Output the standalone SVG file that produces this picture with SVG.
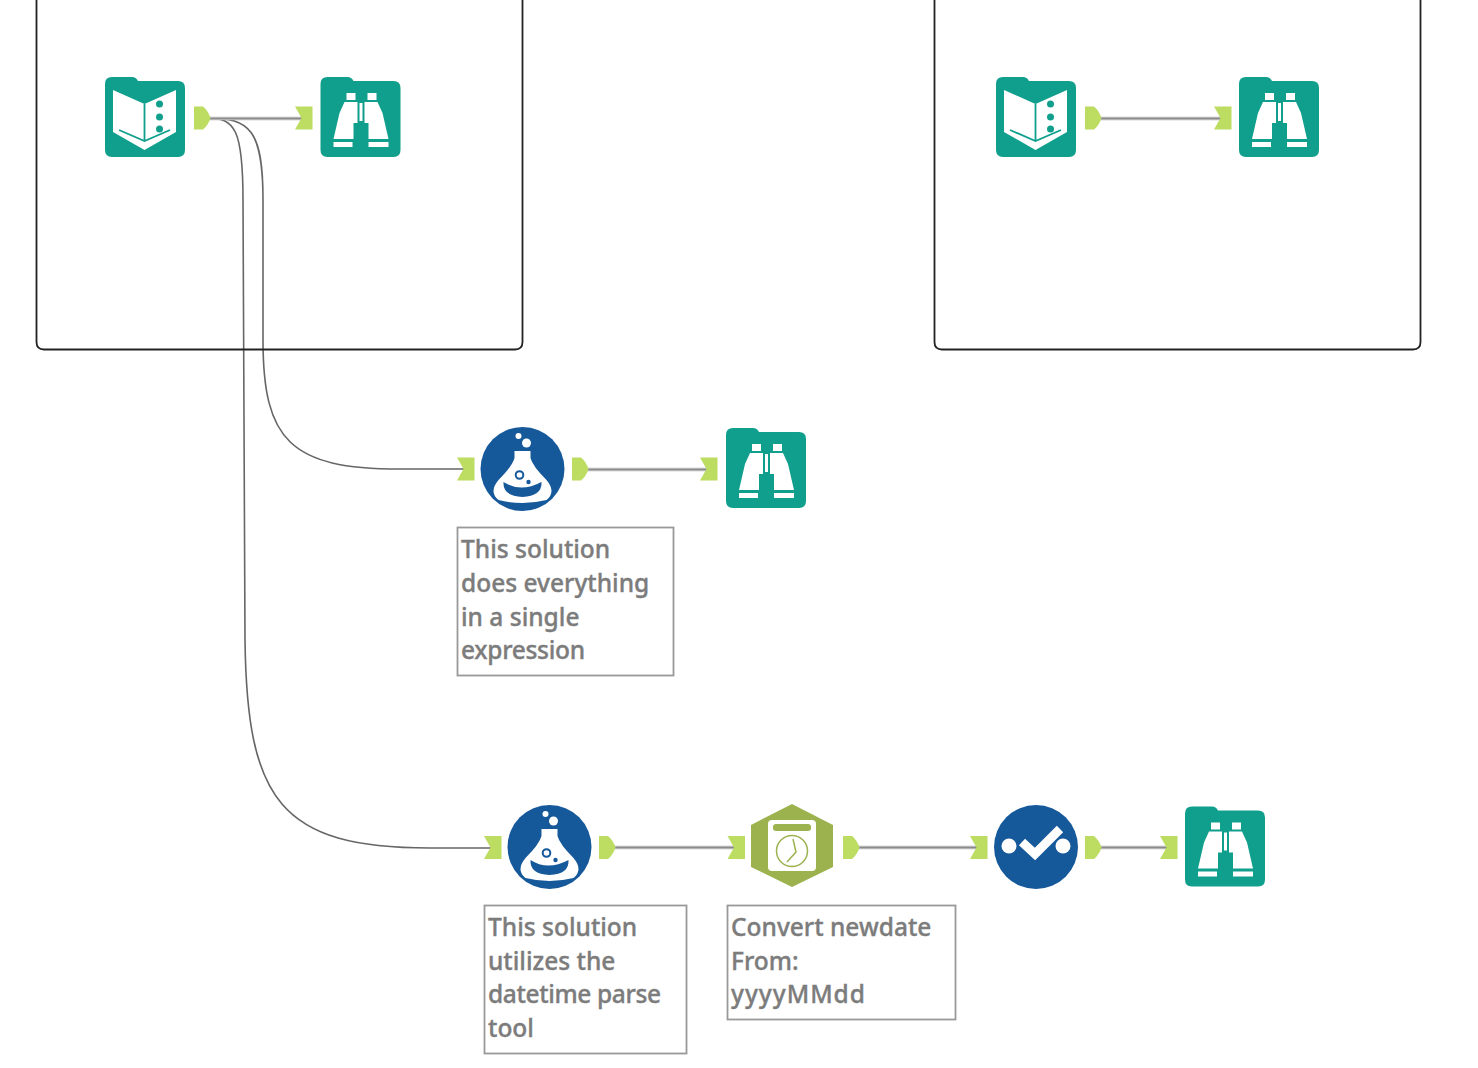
<svg xmlns="http://www.w3.org/2000/svg" width="1478" height="1068" viewBox="0 0 1478 1068">
<style>
.box{fill:none;stroke:#222;stroke-width:1.8}
.note{fill:#fff;stroke:#999;stroke-width:1.8}
.t{font-family:"Noto Sans","DejaVu Sans",sans-serif;font-size:24.5px;font-weight:500;fill:#7c7c7c;stroke:#7c7c7c;stroke-width:.35}
.wire{fill:none;stroke:#b4b4b4;stroke-width:3.6}
.core{fill:none;stroke:#8a8a8a;stroke-width:1.2}
.curve{fill:none;stroke:#666;stroke-width:1.6}
.a{fill:#bcdc62}
.teal{fill:#0f9f8c}
.blue{fill:#16599b}
.w{fill:#fff}
.tl{fill:none;stroke:#0f9f8c;stroke-width:1.8}
</style>
<defs>
<path id="ao" class="a" d="M0 0H9Q14 4 16.500 11.500Q14 19 9 23H0Z"/>
<path id="ai" class="a" d="M0 0H17.500V23H0L6.500 11.500Z"/>
<path id="folder" class="teal" d="M7 0H27Q31 0 33 4H73Q80 4 80 11V73Q80 80 73 80H7Q0 80 0 73V7Q0 0 7 0Z"/>
<g id="binoc">
<use href="#folder"/>
<path class="w" d="M26 16H35V23H26ZM47 16H56V23H47ZM13 65H32V70H13ZM48 65H68V70H48Z"/>
<path class="w" d="M24 25H37V46H33V62H13L19 36ZM44 25H57L62 36L68 62H48V46H44ZM39 26H42V44H39Z"/>
</g>
<g id="book">
<use href="#folder"/>
<path class="w" d="M8 13L39.500 27L71 13V55L39.500 73L8 55Z"/>
<path class="tl" d="M14 53L39.500 64L65 53M39.500 27V64"/>
<circle class="teal" cx="54.500" cy="27" r="3.500"/>
<circle class="teal" cx="54.500" cy="40" r="3.500"/>
<circle class="teal" cx="54.500" cy="52" r="3.500"/>
</g>
<g id="flask">
<circle class="blue" r="42"/>
<circle class="w" cx="-4" cy="-33" r="3"/>
<circle class="w" cx="4" cy="-26" r="4.500"/>
<path class="w" d="M-8 -18H8V-11Q10 -3 24 11Q34 23 24 31Q12 34 0 34Q-12 34 -24 31Q-34 23 -24 11Q-10 -3 -8 -11Z"/>
<circle cx="-3" cy="6" r="3.800" fill="none" stroke="#16599b" stroke-width="2"/>
<circle class="blue" cx="6" cy="13" r="2.200"/>
<path d="M-19 13Q-2 24 19 13Q20 27 0 28Q-20 27 -19 13Z" class="blue"/>
</g>
</defs>
<g id="connectors">
<path class="curve" d="M208 118C250 118 263 130 263 200L263 340C263 440 290 469 400 469L465 469"/>
<path class="curve" d="M208 118C235 118 243 130 243 200L245 640C247 800 280 848 430 848L492 848"/>
<path class="wire" d="M208 118.500H304M1099 118.500H1222M586 469.500H709M613 847.500H736M857 847.500H978M1099 847.500H1168"/>
<path class="core" d="M208 118.500H304M1099 118.500H1222M586 469.500H709M613 847.500H736M857 847.500H978M1099 847.500H1168"/>
</g>
<g id="container-left"><path class="box" d="M36.500 -5V342Q36.500 349.500 44 349.500H515Q522.500 349.500 522.500 342V-5"/></g>
<g id="container-right"><path class="box" d="M934.500 -5V342Q934.500 349.500 942 349.500H1413Q1420.500 349.500 1420.500 342V-5"/></g>
<g id="n1"><use href="#book" x="105" y="77"/><use href="#ao" x="194" y="106.500"/></g>
<g id="n2"><use href="#ai" x="295" y="106.500"/><use href="#binoc" x="320.500" y="77"/></g>
<g id="n3"><use href="#book" x="996" y="77"/><use href="#ao" x="1085" y="106.500"/></g>
<g id="n4"><use href="#ai" x="1214" y="106.500"/><use href="#binoc" x="1239" y="77"/></g>
<g id="n5"><use href="#ai" x="457" y="457.500"/><use href="#flask" x="522.500" y="469"/><use href="#ao" x="572" y="457.500"/></g>
<g id="n6"><use href="#ai" x="700" y="457.500"/><use href="#binoc" x="726" y="428"/></g>
<g id="n7"><rect class="note" x="457.500" y="527.500" width="216" height="148"/>
<text class="t"><tspan x="461" y="558">This solution</tspan><tspan x="461" y="592">does everything</tspan><tspan x="461" y="625.500">in a single</tspan><tspan x="461" y="659" textLength="124">expression</tspan></text></g>
<g id="n8"><use href="#ai" x="484" y="836"/><use href="#flask" x="549.500" y="847"/><use href="#ao" x="599" y="836"/></g>
<g id="n9"><rect class="note" x="484.500" y="905.500" width="202" height="148"/>
<text class="t"><tspan x="488" y="936">This solution</tspan><tspan x="488" y="969.500">utilizes the</tspan><tspan x="488" y="1003" textLength="173">datetime parse</tspan><tspan x="488" y="1037">tool</tspan></text></g>
<g id="n10"><use href="#ai" x="727.500" y="836"/>
<path fill="#9cb24e" d="M792 804L833 825V867L792 887L751 867V825Z"/>
<rect class="w" x="768" y="820" width="48" height="51" rx="4"/>
<rect x="773" y="824" width="38" height="7" rx="3" fill="#9cb24e"/>
<circle cx="792" cy="851" r="15.500" fill="none" stroke="#9cb24e" stroke-width="1.500"/>
<path d="M793 839L796 852L787 862" fill="none" stroke="#9cb24e" stroke-width="1.500"/>
<use href="#ao" x="843" y="836"/></g>
<g id="n11"><rect class="note" x="727.500" y="905.500" width="228" height="114"/>
<text class="t"><tspan x="731" y="936">Convert newdate</tspan><tspan x="731" y="969.500">From:</tspan><tspan x="731" y="1003" textLength="134">yyyyMMdd</tspan></text></g>
<g id="n12"><use href="#ai" x="970" y="836"/><circle class="blue" cx="1036" cy="847" r="42"/>
<circle class="w" cx="1009" cy="846" r="7.500"/><circle class="w" cx="1063" cy="846" r="7.500"/>
<path d="M1022 842L1035 854L1060 829" fill="none" stroke="#fff" stroke-width="9"/>
<use href="#ao" x="1085" y="836"/></g>
<g id="n13"><use href="#ai" x="1160" y="836"/><use href="#binoc" x="1185" y="806.500"/></g>
</svg>
